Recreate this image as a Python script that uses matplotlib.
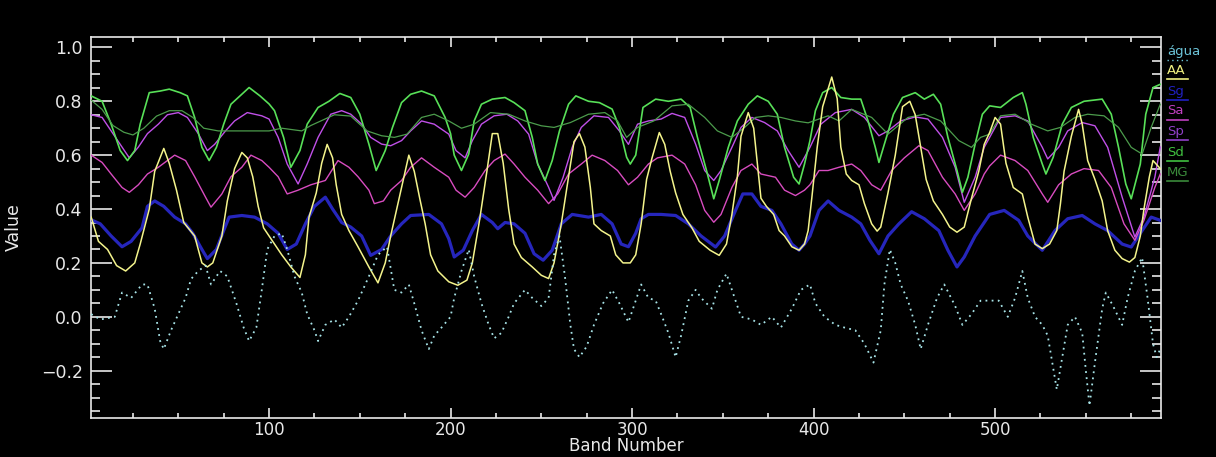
import matplotlib
matplotlib.use("Agg")
import matplotlib.pyplot as plt
from matplotlib.lines import Line2D
from matplotlib.ticker import MultipleLocator

# ---- spectral profiles (band number, value) ----
agua_band = [2, 7, 15, 19, 24, 30, 33, 37, 40, 42, 46, 50, 54, 57, 61, 65, 68, 73, 77, 82, 86, 89, 93, 96, 99, 103, 107, 110, 114, 118, 121, 125, 127, 131, 136, 140, 144, 149, 155, 160, 165, 169, 173, 177, 180, 184, 188, 191, 195, 200, 202, 206, 210, 213, 217, 221, 224, 228, 232, 235, 241, 245, 250, 254, 257, 260, 263, 266, 268, 271, 275, 279, 284, 289, 293, 298, 302, 305, 309, 313, 316, 320, 324, 327, 331, 335, 338, 344, 347, 352, 357, 360, 366, 371, 377, 382, 388, 393, 398, 401, 406, 412, 417, 423, 428, 433, 437, 439, 442, 445, 448, 452, 456, 459, 463, 468, 472, 478, 482, 487, 492, 497, 502, 507, 511, 515, 518, 522, 526, 529, 532, 534, 537, 540, 544, 548, 550, 552, 555, 559, 561, 565, 570, 573, 577, 581, 584, 587, 589, 591]
agua_val = [0.01, -0.01, 0.0, 0.09, 0.07, 0.12, 0.12, 0.03, -0.09, -0.12, -0.05, 0.01, 0.07, 0.14, 0.17, 0.19, 0.12, 0.17, 0.15, 0.05, -0.04, -0.09, -0.04, 0.10, 0.25, 0.30, 0.31, 0.25, 0.15, 0.09, 0.01, -0.05, -0.09, -0.03, -0.01, -0.04, 0.0, 0.06, 0.15, 0.23, 0.26, 0.10, 0.09, 0.12, 0.05, -0.05, -0.12, -0.07, -0.04, 0.0, 0.07, 0.17, 0.25, 0.15, 0.05, -0.03, -0.08, -0.06, 0.0, 0.05, 0.10, 0.07, 0.04, 0.07, 0.23, 0.30, 0.15, -0.03, -0.12, -0.15, -0.11, -0.03, 0.05, 0.10, 0.05, -0.02, 0.06, 0.12, 0.07, 0.06, 0.01, -0.06, -0.15, -0.07, 0.06, 0.10, 0.07, 0.03, 0.10, 0.16, 0.06, 0.0, -0.01, -0.03, 0.0, -0.04, 0.03, 0.10, 0.12, 0.05, 0.0, -0.03, -0.04, -0.05, -0.10, -0.17, -0.05, 0.12, 0.25, 0.20, 0.12, 0.06, -0.03, -0.12, -0.03, 0.07, 0.12, 0.04, -0.03, 0.01, 0.06, 0.06, 0.06, 0.0, 0.07, 0.17, 0.07, 0.0, -0.03, -0.07, -0.19, -0.27, -0.15, -0.03, 0.0, -0.06, -0.20, -0.33, -0.17, 0.03, 0.09, 0.04, -0.03, 0.07, 0.17, 0.22, 0.07, -0.10, -0.15, -0.12]

aa_band = [2, 6, 11, 16, 21, 26, 29, 34, 37, 42, 45, 49, 53, 59, 63, 66, 69, 74, 77, 81, 85, 88, 91, 94, 97, 100, 107, 112, 117, 120, 122, 126, 129, 132, 135, 137, 140, 144, 149, 155, 160, 164, 167, 171, 175, 177, 180, 183, 186, 189, 193, 199, 204, 209, 212, 216, 220, 223, 226, 229, 232, 235, 239, 245, 250, 254, 257, 261, 265, 268, 271, 274, 277, 279, 283, 288, 291, 295, 299, 302, 305, 308, 311, 315, 318, 321, 324, 328, 333, 337, 343, 348, 352, 355, 358, 360, 364, 367, 369, 371, 374, 378, 381, 384, 388, 392, 395, 397, 399, 402, 405, 410, 413, 415, 418, 421, 425, 428, 432, 435, 437, 441, 445, 449, 453, 456, 459, 462, 466, 471, 475, 479, 483, 487, 491, 494, 497, 500, 503, 506, 510, 515, 518, 522, 526, 530, 534, 536, 538, 542, 546, 548, 551, 555, 559, 562, 566, 570, 574, 577, 580, 582, 585, 587, 591]
aa_val = [0.37, 0.28, 0.25, 0.19, 0.17, 0.20, 0.27, 0.40, 0.54, 0.625, 0.57, 0.47, 0.35, 0.30, 0.20, 0.185, 0.20, 0.30, 0.43, 0.55, 0.61, 0.59, 0.52, 0.41, 0.33, 0.30, 0.23, 0.185, 0.146, 0.23, 0.37, 0.46, 0.57, 0.64, 0.59, 0.49, 0.38, 0.32, 0.26, 0.185, 0.126, 0.20, 0.30, 0.42, 0.54, 0.60, 0.54, 0.44, 0.345, 0.23, 0.17, 0.13, 0.117, 0.136, 0.20, 0.36, 0.54, 0.68, 0.68, 0.57, 0.40, 0.27, 0.22, 0.185, 0.154, 0.142, 0.20, 0.345, 0.52, 0.65, 0.68, 0.63, 0.48, 0.345, 0.32, 0.30, 0.23, 0.20, 0.20, 0.23, 0.345, 0.51, 0.59, 0.684, 0.64, 0.54, 0.46, 0.38, 0.33, 0.28, 0.247, 0.228, 0.27, 0.38, 0.52, 0.67, 0.758, 0.70, 0.57, 0.44, 0.41, 0.38, 0.32, 0.30, 0.26, 0.247, 0.27, 0.32, 0.44, 0.63, 0.78, 0.89, 0.81, 0.63, 0.53, 0.506, 0.49, 0.42, 0.345, 0.318, 0.333, 0.46, 0.60, 0.78, 0.80, 0.75, 0.63, 0.51, 0.43, 0.38, 0.333, 0.314, 0.333, 0.44, 0.54, 0.64, 0.684, 0.74, 0.715, 0.57, 0.48, 0.456, 0.37, 0.27, 0.253, 0.27, 0.32, 0.42, 0.54, 0.67, 0.77, 0.715, 0.58, 0.51, 0.43, 0.32, 0.247, 0.216, 0.203, 0.22, 0.30, 0.40, 0.52, 0.58, 0.55]

sg_band = [2, 7, 13, 19, 24, 30, 33, 37, 42, 48, 54, 58, 63, 66, 71, 75, 78, 85, 92, 99, 105, 110, 115, 120, 125, 131, 135, 140, 145, 151, 156, 162, 167, 173, 178, 188, 195, 199, 202, 207, 212, 217, 223, 226, 230, 235, 241, 246, 251, 256, 261, 267, 276, 283, 289, 294, 298, 302, 305, 309, 316, 324, 331, 338, 346, 351, 357, 361, 366, 371, 377, 382, 388, 392, 395, 398, 403, 408, 414, 421, 426, 431, 436, 441, 447, 454, 461, 469, 474, 479, 483, 489, 497, 505, 513, 518, 526, 533, 540, 548, 555, 562, 570, 575, 581, 586, 591]
sg_val = [0.36, 0.345, 0.30, 0.26, 0.28, 0.33, 0.41, 0.43, 0.41, 0.37, 0.345, 0.31, 0.25, 0.216, 0.25, 0.32, 0.37, 0.376, 0.37, 0.345, 0.31, 0.25, 0.27, 0.345, 0.41, 0.444, 0.40, 0.35, 0.333, 0.30, 0.228, 0.25, 0.30, 0.345, 0.376, 0.38, 0.345, 0.29, 0.222, 0.247, 0.32, 0.38, 0.35, 0.327, 0.35, 0.345, 0.31, 0.234, 0.21, 0.247, 0.345, 0.38, 0.37, 0.38, 0.345, 0.27, 0.26, 0.31, 0.364, 0.38, 0.38, 0.376, 0.345, 0.30, 0.259, 0.30, 0.395, 0.456, 0.456, 0.41, 0.395, 0.345, 0.27, 0.247, 0.27, 0.30, 0.395, 0.43, 0.395, 0.37, 0.345, 0.284, 0.234, 0.30, 0.345, 0.39, 0.364, 0.32, 0.247, 0.185, 0.222, 0.30, 0.38, 0.395, 0.358, 0.30, 0.247, 0.32, 0.364, 0.376, 0.345, 0.32, 0.27, 0.259, 0.32, 0.37, 0.358]

sa_band = [2, 8, 13, 19, 23, 28, 33, 39, 44, 48, 54, 59, 65, 68, 74, 79, 85, 90, 96, 100, 105, 110, 116, 123, 131, 138, 144, 149, 155, 158, 163, 167, 173, 178, 184, 191, 199, 203, 208, 213, 219, 224, 230, 235, 241, 248, 254, 259, 265, 272, 278, 285, 292, 298, 303, 309, 314, 322, 329, 335, 340, 345, 349, 355, 360, 366, 371, 379, 384, 390, 395, 398, 403, 408, 414, 421, 426, 432, 437, 443, 450, 458, 463, 471, 478, 483, 489, 494, 497, 503, 511, 518, 526, 529, 535, 542, 549, 557, 564, 571, 577, 582, 588, 591]
sa_val = [0.60, 0.573, 0.53, 0.48, 0.462, 0.49, 0.53, 0.555, 0.58, 0.60, 0.58, 0.52, 0.444, 0.407, 0.456, 0.52, 0.555, 0.60, 0.58, 0.555, 0.52, 0.456, 0.47, 0.49, 0.506, 0.58, 0.555, 0.52, 0.47, 0.42, 0.43, 0.47, 0.506, 0.555, 0.59, 0.555, 0.518, 0.47, 0.444, 0.48, 0.543, 0.58, 0.604, 0.567, 0.518, 0.47, 0.42, 0.456, 0.53, 0.567, 0.60, 0.58, 0.543, 0.49, 0.518, 0.567, 0.59, 0.60, 0.567, 0.49, 0.395, 0.351, 0.38, 0.48, 0.543, 0.567, 0.53, 0.518, 0.47, 0.45, 0.47, 0.49, 0.543, 0.543, 0.555, 0.567, 0.543, 0.49, 0.47, 0.543, 0.59, 0.635, 0.617, 0.518, 0.456, 0.395, 0.456, 0.53, 0.56, 0.60, 0.58, 0.543, 0.456, 0.425, 0.49, 0.53, 0.55, 0.543, 0.48, 0.345, 0.284, 0.358, 0.48, 0.53]

sp_band = [2, 8, 13, 19, 23, 28, 33, 39, 44, 50, 55, 61, 66, 70, 76, 81, 88, 96, 100, 105, 110, 116, 121, 127, 134, 140, 145, 151, 156, 162, 167, 173, 178, 184, 191, 199, 203, 208, 212, 217, 224, 231, 237, 243, 248, 254, 257, 262, 267, 272, 279, 287, 293, 298, 303, 309, 316, 322, 329, 335, 340, 345, 349, 355, 360, 366, 373, 380, 386, 392, 398, 404, 412, 421, 428, 436, 441, 448, 456, 463, 471, 478, 483, 489, 494, 497, 503, 511, 518, 526, 529, 535, 540, 548, 555, 562, 570, 577, 582, 588, 591]
sp_val = [0.75, 0.74, 0.69, 0.63, 0.59, 0.63, 0.68, 0.715, 0.75, 0.758, 0.74, 0.68, 0.617, 0.64, 0.69, 0.727, 0.758, 0.746, 0.734, 0.666, 0.567, 0.493, 0.567, 0.666, 0.752, 0.765, 0.752, 0.715, 0.666, 0.641, 0.635, 0.654, 0.69, 0.727, 0.715, 0.678, 0.617, 0.59, 0.654, 0.715, 0.746, 0.752, 0.727, 0.678, 0.567, 0.481, 0.432, 0.518, 0.629, 0.703, 0.746, 0.74, 0.69, 0.64, 0.715, 0.727, 0.734, 0.755, 0.74, 0.641, 0.543, 0.506, 0.543, 0.629, 0.703, 0.74, 0.721, 0.69, 0.617, 0.555, 0.629, 0.715, 0.758, 0.77, 0.74, 0.672, 0.69, 0.727, 0.742, 0.734, 0.666, 0.555, 0.425, 0.518, 0.629, 0.666, 0.74, 0.746, 0.727, 0.629, 0.586, 0.629, 0.69, 0.721, 0.709, 0.629, 0.444, 0.296, 0.37, 0.518, 0.63]

sd_band = [2, 8, 13, 18, 22, 26, 29, 34, 40, 45, 51, 55, 59, 63, 67, 71, 75, 79, 85, 89, 95, 100, 103, 108, 112, 117, 121, 127, 133, 139, 145, 150, 155, 159, 164, 168, 173, 178, 184, 191, 197, 200, 202, 206, 210, 213, 217, 223, 230, 235, 241, 245, 248, 252, 256, 260, 265, 269, 276, 282, 289, 293, 297, 299, 302, 306, 313, 320, 327, 332, 336, 341, 345, 348, 353, 358, 364, 369, 375, 380, 384, 389, 392, 395, 398, 401, 405, 410, 415, 421, 426, 430, 434, 436, 439, 444, 449, 456, 461, 466, 470, 474, 479, 482, 485, 489, 493, 497, 503, 510, 515, 517, 521, 526, 528, 532, 537, 542, 549, 559, 564, 568, 572, 575, 580, 583, 587, 591]
sd_val = [0.82, 0.80, 0.715, 0.617, 0.58, 0.617, 0.715, 0.832, 0.838, 0.845, 0.832, 0.82, 0.74, 0.629, 0.58, 0.629, 0.715, 0.789, 0.826, 0.851, 0.82, 0.79, 0.765, 0.666, 0.555, 0.617, 0.715, 0.777, 0.80, 0.829, 0.814, 0.752, 0.641, 0.543, 0.617, 0.703, 0.795, 0.826, 0.838, 0.82, 0.74, 0.68, 0.60, 0.543, 0.604, 0.727, 0.789, 0.808, 0.814, 0.795, 0.765, 0.666, 0.567, 0.506, 0.58, 0.69, 0.789, 0.82, 0.80, 0.795, 0.771, 0.703, 0.592, 0.567, 0.60, 0.777, 0.808, 0.80, 0.808, 0.777, 0.666, 0.543, 0.438, 0.506, 0.629, 0.727, 0.789, 0.82, 0.80, 0.752, 0.629, 0.518, 0.493, 0.567, 0.654, 0.765, 0.832, 0.851, 0.814, 0.808, 0.808, 0.727, 0.629, 0.573, 0.641, 0.752, 0.814, 0.832, 0.808, 0.826, 0.789, 0.666, 0.543, 0.462, 0.518, 0.641, 0.752, 0.783, 0.777, 0.814, 0.832, 0.789, 0.666, 0.567, 0.53, 0.592, 0.715, 0.777, 0.80, 0.808, 0.752, 0.629, 0.493, 0.438, 0.567, 0.752, 0.851, 0.863]

mg_band = [1, 8, 14, 20, 25, 31, 38, 45, 52, 58, 64, 72, 85, 100, 107, 118, 123, 136, 145, 154, 162, 169, 176, 184, 191, 199, 206, 213, 222, 232, 241, 250, 257, 266, 276, 285, 292, 297, 303, 312, 322, 331, 340, 347, 355, 362, 368, 375, 382, 390, 397, 408, 414, 421, 432, 441, 452, 461, 470, 480, 487, 492, 497, 503, 511, 520, 529, 536, 544, 551, 560, 568, 575, 581, 586, 591]
mg_val = [0.81, 0.77, 0.71, 0.685, 0.675, 0.70, 0.745, 0.765, 0.765, 0.74, 0.70, 0.69, 0.69, 0.69, 0.70, 0.69, 0.71, 0.75, 0.745, 0.69, 0.672, 0.666, 0.678, 0.74, 0.752, 0.727, 0.70, 0.715, 0.758, 0.752, 0.727, 0.709, 0.703, 0.721, 0.752, 0.758, 0.727, 0.666, 0.703, 0.727, 0.783, 0.789, 0.74, 0.69, 0.666, 0.703, 0.74, 0.746, 0.74, 0.727, 0.72, 0.746, 0.727, 0.77, 0.74, 0.678, 0.74, 0.752, 0.727, 0.654, 0.629, 0.666, 0.678, 0.746, 0.752, 0.715, 0.69, 0.703, 0.74, 0.752, 0.746, 0.703, 0.629, 0.604, 0.703, 0.789]

names = ["água", "AA", "Sg", "Sa", "Sp", "Sd", "MG"]

# ---- styling ----
FG = "#e8e8e8"
colors = {"água": "#a8e4e8", "AA": "#f4f48c", "Sg": "#2626bc", "Sa": "#d84cc0",
          "Sp": "#c050e8", "Sd": "#58e058", "MG": "#4c9c4c"}
label_colors = {"água": "#6cc4d8", "AA": "#f0f080", "Sg": "#2020c0", "Sa": "#c040c0",
                "Sp": "#9040c8", "Sd": "#40c040", "MG": "#3a8a3a"}
widths = {"água": 1.3, "AA": 1.1, "Sg": 2.3, "Sa": 1.0, "Sp": 1.0, "Sd": 1.2, "MG": 0.9}
styles = {"água": (0, (1, 2.4)), "AA": "-", "Sg": "-", "Sa": "-", "Sp": "-", "Sd": "-", "MG": "-"}
orders = {"água": 7, "AA": 6, "Sg": 3, "Sa": 4, "Sp": 4, "Sd": 5, "MG": 5}

series = {
    "água": (agua_band, agua_val),
    "AA": (aa_band, aa_val),
    "Sg": (sg_band, sg_val),
    "Sa": (sa_band, sa_val),
    "Sp": (sp_band, sp_val),
    "Sd": (sd_band, sd_val),
    "MG": (mg_band, mg_val),
}

plt.rcParams["font.family"] = ["DejaVu Sans"]
fig = plt.figure(figsize=(12.16, 4.57), dpi=100, facecolor="black")
ax = fig.add_axes([91 / 1216, 1 - 418 / 457, (1161 - 91) / 1216, (418 - 37) / 457])
ax.set_facecolor("black")

for name in names:
    b, v = series[name]
    ax.plot(b, v, color=colors[name], lw=widths[name], ls=styles[name],
            zorder=orders[name], solid_joinstyle="round")

ax.set_xlim(1.9, 591.4)
ax.set_ylim(-0.3757, 1.0386)

ax.xaxis.set_major_locator(MultipleLocator(100))
ax.xaxis.set_minor_locator(MultipleLocator(25))
ax.yaxis.set_major_locator(MultipleLocator(0.2))
ax.yaxis.set_minor_locator(MultipleLocator(0.05))
ax.yaxis.set_major_formatter(plt.FuncFormatter(lambda v, p: f"{v:.1f}".replace("-", "\u2212")))

for s in ax.spines.values():
    s.set_color(FG)
    s.set_linewidth(1.2)

ax.tick_params(which="both", direction="in", top=True, right=True, colors=FG, width=1.2)
ax.tick_params(axis="y", which="major", length=15, pad=6, labelsize=12.5)
ax.tick_params(axis="y", which="minor", length=6.5)
ax.tick_params(axis="x", which="major", length=7, pad=2, labelsize=12)
ax.tick_params(axis="x", which="minor", length=3.5)

ax.set_xlabel("Band Number", color=FG, fontsize=12, va="baseline")
ax.xaxis.set_label_coords(0.5, -(451 - 418) / 381)
ax.set_ylabel("Value", color=FG, fontsize=12.5)
ax.yaxis.set_label_coords(-0.064, 0.5)

# legend drawn beside the right axis: coloured name over a short line sample
legend_y = [51, 70, 91, 111, 131, 152, 172]
for name, py in zip(names, legend_y):
    fy = 1 - py / 457
    fig.text(1167 / 1216, fy, name, color=label_colors[name], fontsize=9.5,
             ha="left", va="center")
    uy = 1 - (py + 8.5) / 457
    fig.add_artist(Line2D([1167 / 1216, 1188 / 1216], [uy, uy], transform=fig.transFigure,
                          color=label_colors[name], lw=1.2 if name != "água" else 1.0,
                          ls=styles[name]))

fig.savefig("out.png", dpi=100, facecolor="black")
